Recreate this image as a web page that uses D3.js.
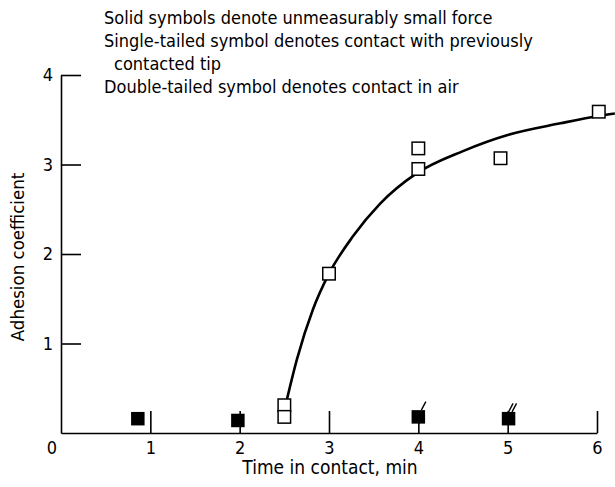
<!DOCTYPE html>
<html>
<head>
<meta charset="utf-8">
<script src="https://cdn.jsdelivr.net/npm/d3@7"></script>
<style>
  body { margin: 0; background: #fff; }
  svg text { font-family: "DejaVu Sans Condensed", "Liberation Sans Narrow", "DejaVu Sans", sans-serif; font-stretch: condensed; fill: #000; }
</style>
</head>
<body>
<div id="chart"></div>
<script>
// measured adhesion (open squares)
var openTime = [2.5, 2.5, 3.0, 4.0, 4.0, 4.92, 6.02];
var openCoef = [0.31, 0.18, 1.78, 3.18, 2.95, 3.07, 3.59];

// unmeasurably small force (solid squares), tails: 0 none, 1 single, 2 double
var solidTime = [0.86, 1.98, 4.0, 5.01];
var solidCoef = [0.16, 0.14, 0.18, 0.16];
var solidTails = [0, 0, 1, 2];

// faired curve
var curveTime = [2.53, 2.64, 2.82, 3.0, 3.27, 3.57, 3.98, 4.5, 5.0, 5.59, 6.0, 6.2];
var curveCoef = [0.38, 0.82, 1.38, 1.78, 2.2, 2.56, 2.9, 3.15, 3.33, 3.46, 3.54, 3.57];

var xTicks = [1, 2, 3, 4, 5, 6];
var yTicks = [1, 2, 3, 4];

var notes = [
  "Solid symbols denote unmeasurably small force",
  "Single-tailed symbol denotes contact with previously",
  "  contacted tip",
  "Double-tailed symbol denotes contact in air"
];

var width = 615, height = 487;

var svg = d3.select("#chart").append("svg")
  .attr("width", width)
  .attr("height", height);

var x = d3.scaleLinear().domain([0, 6]).range([61, 597]);
var y = d3.scaleLinear().domain([0, 4]).range([433, 75]);

// notes at the top
svg.append("g")
  .selectAll("text")
  .data(notes)
  .enter()
  .append("text")
  .attr("x", (d, i) => i == 2 ? 114 : 104)
  .attr("y", (d, i) => 24 + i * 23)
  .attr("font-size", "18px")
  .text(d => d.trim());

// axes
svg.append("g")
  .attr("transform", "translate(0," + y(0) + ")")
  .call(d3.axisBottom(x).tickValues(xTicks).tickSizeInner(-22).tickSizeOuter(0).tickPadding(8).tickFormat(d3.format("d")));

svg.append("g")
  .attr("transform", "translate(" + x(0) + ",0)")
  .call(d3.axisLeft(y).tickValues(yTicks).tickSizeInner(-20).tickSizeOuter(0).tickPadding(8).tickFormat(d3.format("d")));

svg.selectAll(".domain, .tick line").attr("stroke", "#000").attr("stroke-width", 1.6);
svg.selectAll(".tick text").attr("font-size", "18px").attr("font-family", null);

svg.append("text")
  .attr("x", x(0) - 9)
  .attr("y", y(0) + 21)
  .attr("text-anchor", "middle")
  .attr("font-size", "18px")
  .text("0");

// axis titles
svg.append("text")
  .attr("x", 330)
  .attr("y", 474)
  .attr("text-anchor", "middle")
  .attr("font-size", "19px")
  .text("Time in contact, min");

svg.append("text")
  .attr("transform", "translate(24,257) rotate(-90)")
  .attr("text-anchor", "middle")
  .attr("font-size", "18.5px")
  .text("Adhesion coefficient");

// curve
var curvePts = curveTime.map((t, i) => [t, curveCoef[i]]);
var line = d3.line()
  .x(d => x(d[0]))
  .y(d => y(d[1]))
  .curve(d3.curveMonotoneX);

svg.append("path")
  .datum(curvePts)
  .attr("d", line)
  .attr("fill", "none")
  .attr("stroke", "#000")
  .attr("stroke-width", 2.6);

// open squares
var s = 12.5;
svg.append("g")
  .selectAll("rect")
  .data(openTime.map((t, i) => ({ t: t, c: openCoef[i] })))
  .enter()
  .append("rect")
  .attr("x", d => x(d.t) - s / 2)
  .attr("y", d => y(d.c) - s / 2)
  .attr("width", s)
  .attr("height", s)
  .attr("fill", "#fff")
  .attr("stroke", "#000")
  .attr("stroke-width", 1.5);

// solid squares with tails
var solid = solidTime.map((t, i) => ({ t: t, c: solidCoef[i], tails: solidTails[i] }));
var ss = 13.5;
var sg = svg.append("g")
  .selectAll("g")
  .data(solid)
  .enter()
  .append("g")
  .attr("transform", d => "translate(" + x(d.t) + "," + y(d.c) + ")");

sg.append("rect")
  .attr("x", -ss / 2)
  .attr("y", -ss / 2)
  .attr("width", ss)
  .attr("height", ss)
  .attr("fill", "#000");

sg.each(function(d) {
  for (var k = 0; k < d.tails; k++) {
    var off = d.tails == 2 ? k * 3.5 : 3;
    d3.select(this).append("line")
      .attr("x1", off)
      .attr("y1", -ss / 2)
      .attr("x2", off + 4.5)
      .attr("y2", -ss / 2 - 8.5)
      .attr("stroke", "#000")
      .attr("stroke-width", 1.4);
  }
});
</script>
</body>
</html>
